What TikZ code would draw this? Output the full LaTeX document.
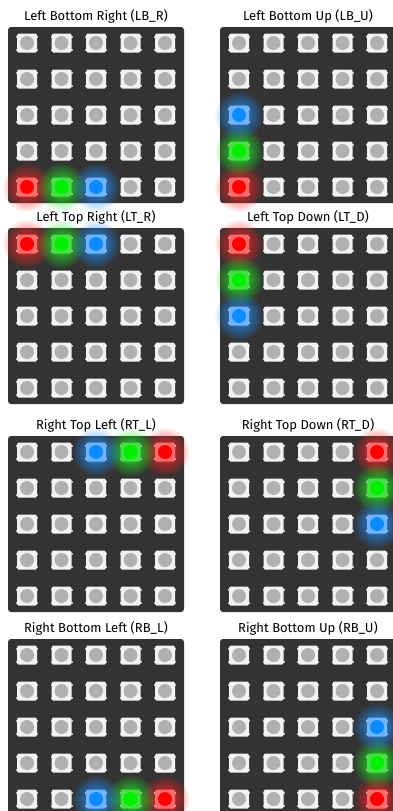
\documentclass[tikz,border=0pt]{standalone}
\usepackage{fontspec}
\setmainfont{Fira Sans}
\usetikzlibrary{fadings}
\tikzfading[name=glowfade, inner color=transparent!0, outer color=transparent!100]
\definecolor{panelbg}{HTML}{333333}
\definecolor{sqoff}{HTML}{F2F2F2}
\definecolor{dotoff}{HTML}{B0B0B0}
\definecolor{pinc}{HTML}{B8B8B8}
\definecolor{sqred}{HTML}{FF6B6B}
\definecolor{dotred}{HTML}{FF0000}
\definecolor{glowred}{HTML}{FF2020}
\definecolor{sqgreen}{HTML}{44E044}
\definecolor{dotgreen}{HTML}{00F000}
\definecolor{glowgreen}{HTML}{20F020}
\definecolor{sqblue}{HTML}{70B4FF}
\definecolor{dotblue}{HTML}{0A8CFF}
\definecolor{glowblue}{HTML}{2090FF}
\definecolor{titlec}{HTML}{000000}
\tikzset{
  panel/.style={rectangle, minimum width=176pt, minimum height=176pt, inner sep=0pt, rounded corners=3pt, fill=panelbg},
  title/.style={text=titlec, font=\fontsize{13}{15}\selectfont, inner sep=0pt},
  sq/.style={rectangle, minimum width=20pt, minimum height=19pt, inner sep=0pt, rounded corners=1.5pt, fill=sq#1},
  dot/.style={circle, minimum size=14pt, inner sep=0pt, fill=dot#1},
}
% #1 name, #2 left x, #3 top y, #4 title, #5 lit list col/row/colour
\newcommand\ledpanel[5]{%
  \node[panel] (#1) at (#2+88,#3+88) {};
  \node[title] (#1-t) at (#2+88,#3-11) {#4};
  \foreach \lc/\lr/\lk in {#5}{%
    \fill[glow\lk, path fading=glowfade] (#2+19+34.5*\lc, #3+16+36*\lr) circle (25);
  }
  \foreach \c in {0,...,4}{%
    \foreach \r in {0,...,4}{%
      \pgfmathsetmacro\lx{#2+19+34.5*\c}
      \pgfmathsetmacro\ly{#3+16+36*\r}
      \gdef\st{off}
      \foreach \lc/\lr/\lk in {#5}{\ifnum\lc=\c\relax\ifnum\lr=\r\relax\xdef\st{\lk}\fi\fi}
      \fill[pinc] (\lx-11,\ly-7.5) rectangle (\lx+11,\ly-5.5);
      \fill[pinc] (\lx-11,\ly+5.5) rectangle (\lx+11,\ly+7.5);
      \node[sq=\st] (#1-\c-\r) at (\lx,\ly) {};
      \node[dot=\st] (#1-d\c-\r) at (\lx,\ly) {};
    }%
  }%
}
\begin{document}
\begin{tikzpicture}[x=1pt,y=-1pt]
\useasboundingbox (0,0) rectangle (393,811);
\clip (0,0) rectangle (393,811);
\fill[white] (0,0) rectangle (393,811);
\ledpanel{lbr}{8}{27}{Left Bottom Right (LB\_R)}{0/4/red,1/4/green,2/4/blue}
\ledpanel{lbu}{220}{27}{Left Bottom Up (LB\_U)}{0/4/red,0/3/green,0/2/blue}
\ledpanel{ltr}{8}{228}{Left Top Right (LT\_R)}{0/0/red,1/0/green,2/0/blue}
\ledpanel{ltd}{220}{228}{Left Top Down (LT\_D)}{0/0/red,0/1/green,0/2/blue}
\ledpanel{rtl}{8}{436}{Right Top Left (RT\_L)}{4/0/red,3/0/green,2/0/blue}
\ledpanel{rtd}{220}{436}{Right Top Down (RT\_D)}{4/0/red,4/1/green,4/2/blue}
\ledpanel{rbl}{8}{639}{Right Bottom Left (RB\_L)}{4/4/red,3/4/green,2/4/blue}
\ledpanel{rbu}{220}{639}{Right Bottom Up (RB\_U)}{4/4/red,4/3/green,4/2/blue}
\end{tikzpicture}
\end{document}
